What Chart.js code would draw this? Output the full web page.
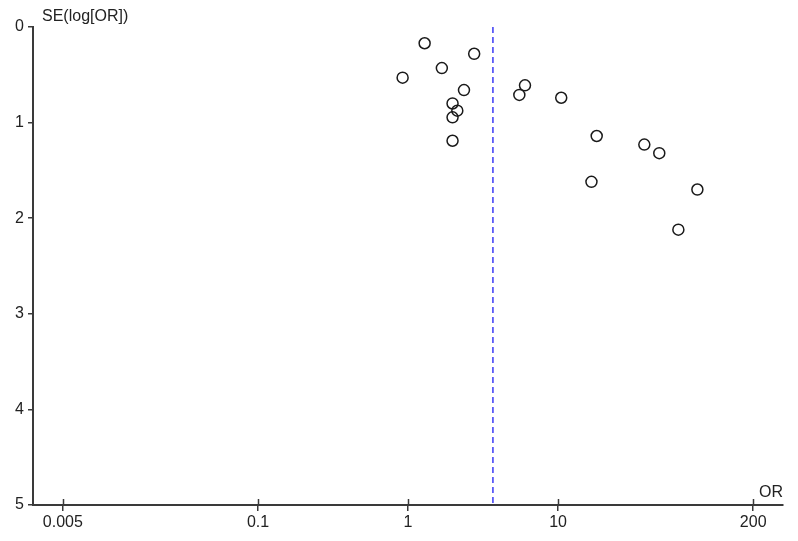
<!DOCTYPE html>
<html lang="en">
<head>
  <meta charset="UTF-8" />
  <title>Funnel plot</title>
  <script src="https://cdn.jsdelivr.net/npm/chart.js@4.4.1/dist/chart.umd.min.js"></script>
  <style>
    html, body { margin: 0; padding: 0; background: #fff; }
    canvas { display: block; }
  </style>
</head>
<body>
  <canvas id="funnel" width="798" height="541"></canvas>
  <script>
    // odds ratio and standard error of log(OR) for each study
    const oddsRatio = [1.29, 2.76, 1.68, 0.92, 2.36, 1.98, 2.13, 1.98, 1.98, 6.02, 5.52, 10.5, 18.1, 16.7, 37.6, 47.3, 84.9, 63.4];
    const seLogOR = [0.17, 0.28, 0.43, 0.53, 0.66, 0.80, 0.875, 0.945, 1.19, 0.61, 0.71, 0.74, 1.14, 1.62, 1.23, 1.32, 1.70, 2.12];
    const pooledOR = 3.68;
    const xTicks = [0.005, 0.1, 1, 10, 200];
    const yTicks = [0, 1, 2, 3, 4, 5];

    const axisColor = '#3a3a3a';
    const font = { family: 'Liberation Sans, Arial, sans-serif', size: 16 };

    // x ticks that also go up into the plot, plus the two axis titles
    const extras = {
      id: 'extras',
      afterDraw(chart) {
        const ctx = chart.ctx;
        const xs = chart.scales.x;
        const area = chart.chartArea;
        ctx.save();
        ctx.strokeStyle = axisColor;
        ctx.lineWidth = 1.5;
        xs.ticks.forEach(t => {
          const px = Math.round(xs.getPixelForValue(t.value)) + 0.5;
          ctx.beginPath();
          ctx.moveTo(px, area.bottom);
          ctx.lineTo(px, area.bottom - 6);
          ctx.stroke();
        });
        ctx.fillStyle = '#222';
        ctx.font = '16px Liberation Sans, Arial, sans-serif';
        ctx.textBaseline = 'alphabetic';
        ctx.textAlign = 'left';
        ctx.fillText('SE(log[OR])', area.left + 9, area.top - 6);
        ctx.textAlign = 'right';
        ctx.fillText('OR', area.right, area.bottom - 8);
        ctx.restore();
      }
    };

    new Chart(document.getElementById('funnel'), {
      type: 'scatter',
      data: {
        datasets: [{
          label: 'studies',
          data: oddsRatio.map((v, i) => ({ x: v, y: seLogOR[i] })),
          pointStyle: 'circle',
          pointRadius: 5.5,
          pointBorderWidth: 1.5,
          pointBorderColor: '#1a1a1a',
          pointBackgroundColor: 'rgba(255,255,255,0)'
        }, {
          label: 'pooled',
          data: [{ x: pooledOR, y: 0 }, { x: pooledOR, y: 5 }],
          showLine: true,
          borderColor: '#3b3bf5',
          borderWidth: 1.5,
          borderDash: [6, 4],
          pointRadius: 0
        }]
      },
      options: {
        responsive: false,
        animation: false,
        devicePixelRatio: 1,
        layout: { padding: { top: 27, right: 15, left: 0, bottom: 0 } },
        plugins: {
          legend: { display: false },
          tooltip: { enabled: false }
        },
        scales: {
          x: {
            type: 'logarithmic',
            min: 0.00316,
            max: 316,
            afterBuildTicks: s => { s.ticks = xTicks.map(v => ({ value: v })); },
            afterFit: s => { s.height = 36; },
            ticks: {
              font: font,
              color: '#222',
              padding: 2,
              autoSkip: false,
              maxRotation: 0,
              callback: v => String(v)
            },
            grid: { drawOnChartArea: false, tickLength: 6, color: axisColor, lineWidth: 1.5 },
            border: { color: axisColor, width: 2 }
          },
          y: {
            reverse: true,
            min: 0,
            max: 5,
            afterBuildTicks: s => { s.ticks = yTicks.map(v => ({ value: v })); },
            afterFit: s => { s.width = 33; },
            ticks: { font: font, color: '#222', padding: 4 },
            grid: { drawOnChartArea: false, tickLength: 5, color: axisColor, lineWidth: 1.5 },
            border: { color: axisColor, width: 2 }
          }
        }
      },
      plugins: [extras]
    });
  </script>
</body>
</html>
